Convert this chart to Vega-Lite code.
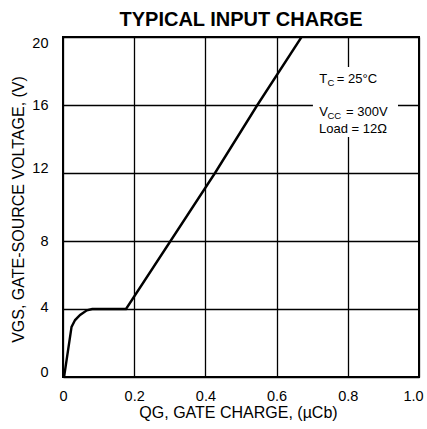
{
  "$schema": "https://vega.github.io/schema/vega-lite/v6.json",
  "width": 356,
  "height": 340,
  "autosize": "none",
  "padding": {"left": 63, "top": 37, "right": 8, "bottom": 52},
  "background": "white",
  "title": {
    "text": "TYPICAL INPUT CHARGE",
    "fontSize": 20,
    "fontWeight": "bold",
    "font": "Liberation Sans",
    "color": "black",
    "anchor": "middle",
    "offset": 5
  },
  "config": {
    "font": "Liberation Sans",
    "view": {"stroke": "black", "strokeWidth": 2},
    "axis": {
      "domain": false,
      "ticks": false,
      "grid": true,
      "gridColor": "black",
      "gridWidth": 1.3,
      "gridOpacity": 1,
      "labelColor": "black",
      "labelFont": "Liberation Sans",
      "labelFontSize": 14.5,
      "titleColor": "black",
      "titleFont": "Liberation Sans",
      "titleFontSize": 16,
      "titleFontWeight": "normal"
    }
  },
  "encoding": {
    "x": {
      "field": "x", "type": "quantitative",
      "scale": {"domain": [0, 1], "nice": false},
      "axis": {
        "values": [0, 0.2, 0.4, 0.6, 0.8, 1.0],
        "labelExpr": "datum.value == 0 ? '0' : format(datum.value, '.1f')",
        "labelFlush": false,
        "labelPadding": 12,
        "labelOffset": {"condition": {"test": "datum.value == 1", "value": -6}, "value": 0},
        "title": "QG, GATE CHARGE, (µCb)",
        "titleX": 175,
        "titleY": 40,
        "titleBaseline": "alphabetic",
        "titleAlign": "center"
      }
    },
    "y": {
      "field": "y", "type": "quantitative",
      "scale": {"domain": [0, 20], "nice": false},
      "axis": {
        "values": [0, 4, 8, 12, 16, 20],
        "labelPadding": 15,
        "labelFlush": false,
        "labelOffset": {"condition": [
          {"test": "datum.value == 20", "value": 6},
          {"test": "datum.value == 12 || datum.value == 0", "value": -5},
          {"test": "datum.value == 4", "value": -2}
        ], "value": 0},
        "title": "VGS, GATE-SOURCE VOLTAGE, (V)",
        "titleAngle": -90,
        "titleX": -40,
        "titleY": 172,
        "titleBaseline": "alphabetic",
        "titleAlign": "center"
      }
    }
  },
  "layer": [
    {
      "data": {"values": [
        {"x": 0.003, "y": 0},
        {"x": 0.024, "y": 2.95},
        {"x": 0.034, "y": 3.35},
        {"x": 0.048, "y": 3.65},
        {"x": 0.067, "y": 3.92},
        {"x": 0.082, "y": 4.0},
        {"x": 0.177, "y": 4.0},
        {"x": 0.302, "y": 8},
        {"x": 0.427, "y": 12},
        {"x": 0.546, "y": 16},
        {"x": 0.670, "y": 20}
      ]},
      "mark": {"type": "line", "color": "black", "strokeWidth": 2.4, "clip": true}
    },
    {
      "data": {"values": [{"x": 0.702, "x2": 0.941, "y": 14.12, "y2": 18.24}]},
      "mark": {"type": "rect", "fill": "white"},
      "encoding": {
        "x2": {"field": "x2"},
        "y2": {"field": "y2"}
      }
    },
    {
      "data": {"values": [
        {"x": 0.72, "y": 17.3, "t": "T"},
        {"x": 0.769, "y": 17.3, "t": "= 25°C"},
        {"x": 0.72, "y": 15.37, "t": "V"},
        {"x": 0.795, "y": 15.37, "t": "= 300V"},
        {"x": 0.719, "y": 14.33, "t": "Load = 12Ω"}
      ]},
      "mark": {"type": "text", "align": "left", "baseline": "alphabetic", "fontSize": 13, "color": "black", "font": "Liberation Sans"},
      "encoding": {
        "text": {"field": "t"}
      }
    },
    {
      "data": {"values": [
        {"x": 0.743, "y": 17.1, "t": "C"},
        {"x": 0.743, "y": 15.15, "t": "CC"}
      ]},
      "mark": {"type": "text", "align": "left", "baseline": "alphabetic", "fontSize": 9.5, "color": "black", "font": "Liberation Sans"},
      "encoding": {
        "text": {"field": "t"}
      }
    }
  ]
}
